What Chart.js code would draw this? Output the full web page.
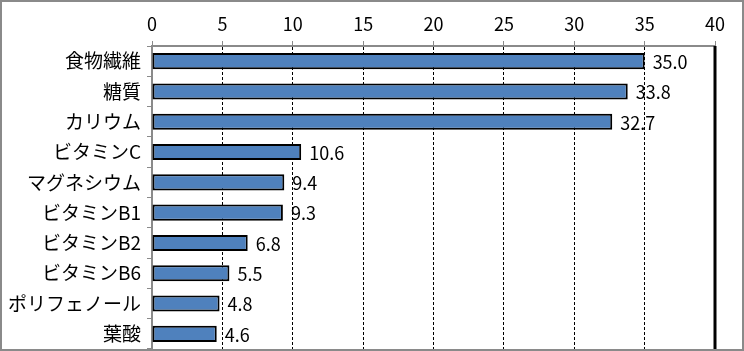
<!DOCTYPE html>
<html lang="ja">
<head>
<meta charset="UTF-8">
<title>成分比較</title>
<script src="https://cdn.jsdelivr.net/npm/chart.js"></script>
<style>
  html, body { margin: 0; padding: 0; background: #fff; }
  #wrap { width: 744px; height: 351px; position: relative; }
</style>
</head>
<body>
<div id="wrap"><canvas id="grafico"></canvas></div>
<script>
const categorias = ['食物繊維', '糖質', 'カリウム', 'ビタミンC', 'マグネシウム', 'ビタミンB1', 'ビタミンB2', 'ビタミンB6', 'ポリフェノール', '葉酸'];
const valores = [35.0, 33.8, 32.7, 10.6, 9.4, 9.3, 6.8, 5.5, 4.8, 4.6];
const eixoMin = 0;
const eixoMax = 40;
const eixoPasso = 5;

const fonte = "'Noto Sans CJK JP', 'Noto Sans', sans-serif";

// rotulos de valor + linha final + moldura
const extras = {
  id: 'extras',
  afterDatasetsDraw(chart) {
    const { ctx, chartArea } = chart;
    const x = chart.scales.x;
    const meta = chart.getDatasetMeta(0);
    ctx.save();
    // linha solida no maximo
    const xm = Math.round(x.getPixelForValue(eixoMax));
    ctx.strokeStyle = '#000';
    ctx.lineWidth = 3;
    ctx.beginPath();
    ctx.moveTo(xm, chartArea.top);
    ctx.lineTo(xm, chartArea.bottom + 2);
    ctx.stroke();
    // valores
    ctx.fillStyle = '#000';
    ctx.font = '18px ' + fonte;
    ctx.textBaseline = 'middle';
    ctx.textAlign = 'left';
    meta.data.forEach((bar, i) => {
      ctx.fillText(valores[i].toFixed(1), bar.x + 8, bar.y + 1);
    });
    // moldura
    ctx.strokeStyle = '#8a8a8a';
    ctx.lineWidth = 2;
    ctx.strokeRect(1, 1, chart.width - 2, chart.height - 2);
    ctx.restore();
  }
};

const ctx = document.getElementById('grafico').getContext('2d');
const grafico = new Chart(ctx, {
  type: 'bar',
  data: {
    labels: categorias,
    datasets: [{
      data: valores,
      backgroundColor: '#4f81bd',
      borderColor: '#000',
      borderWidth: 2,
      borderSkipped: false,
      categoryPercentage: 1.0,
      barPercentage: 0.53
    }]
  },
  options: {
    indexAxis: 'y',
    responsive: true,
    maintainAspectRatio: false,
    animation: false,
    layout: { padding: { left: 0, right: 29, top: 0, bottom: 2 } },
    plugins: {
      legend: { display: false },
      tooltip: { enabled: false }
    },
    scales: {
      x: {
        position: 'top',
        min: eixoMin,
        max: eixoMax,
        afterFit(scale) { scale.height = 46; },
        ticks: {
          stepSize: eixoPasso,
          color: '#000',
          padding: 6,
          font: { family: fonte, size: 18 }
        },
        grid: {
          color: (c) => (c.tick && (c.tick.value === eixoMin || c.tick.value === eixoMax)) ? 'rgba(0,0,0,0)' : '#000',
          lineWidth: 1,
          tickColor: '#8a8a8a',
          tickLength: 5,
          drawTicks: true
        },
        border: { color: '#8a8a8a', width: 2, dash: [3, 2] }
      },
      y: {
        afterFit(scale) {
          scale.width = 152;
          scale.paddingTop = 0;
          scale.paddingBottom = 0;
        },
        ticks: {
          color: '#000',
          padding: 6,
          font: { family: fonte, size: 19 }
        },
        grid: {
          drawOnChartArea: false,
          offset: true,
          color: '#8a8a8a',
          tickLength: 5
        },
        border: { color: '#8a8a8a', width: 2 }
      }
    }
  },
  plugins: [extras]
});
</script>
</body>
</html>
